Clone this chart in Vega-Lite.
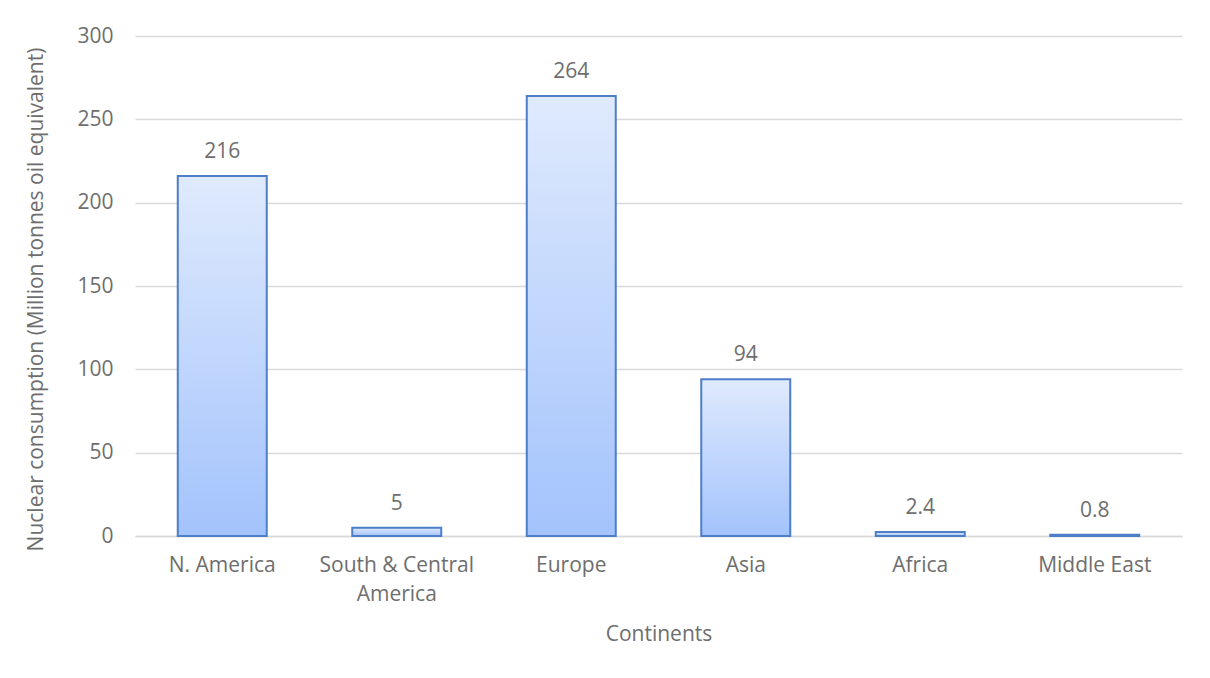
{
  "$schema": "https://vega.github.io/schema/vega-lite/v6.json",
  "width": 1047,
  "height": 500,
  "autosize": {"type": "none"},
  "padding": {"left": 135, "top": 36, "right": 28, "bottom": 142},
  "background": "white",
  "data": {
    "values": [
      {"continent": "N. America", "consumption": 216, "label": "216"},
      {"continent": "South & Central America", "consumption": 5, "label": "5"},
      {"continent": "Europe", "consumption": 264, "label": "264"},
      {"continent": "Asia", "consumption": 94, "label": "94"},
      {"continent": "Africa", "consumption": 2.4, "label": "2.4"},
      {"continent": "Middle East", "consumption": 0.8, "label": "0.8"}
    ]
  },
  "encoding": {
    "x": {
      "field": "continent",
      "type": "nominal",
      "sort": null,
      "scale": {"paddingInner": 0.49, "paddingOuter": 0.245},
      "axis": {
        "title": "Continents",
        "labelAngle": 0,
        "labelExpr": "datum.value == 'South & Central America' ? ['South & Central', 'America'] : datum.value",
        "labelLineHeight": 29,
        "labelPadding": 18,
        "titlePadding": 19,
        "ticks": false,
        "domainColor": "#D9D9D9",
        "domainWidth": 1.3
      }
    },
    "y": {
      "field": "consumption",
      "type": "quantitative",
      "scale": {"domain": [0, 300], "nice": false},
      "axis": {
        "title": "Nuclear consumption (Million tonnes oil equivalent)",
        "values": [0, 50, 100, 150, 200, 250, 300],
        "domain": false,
        "ticks": false,
        "labelPadding": 22,
        "grid": true,
        "gridColor": "#D9D9D9",
        "gridWidth": 1.3,
        "titleY": 263,
        "titlePadding": 30
      }
    }
  },
  "layer": [
    {
      "mark": {
        "type": "bar",
        "fill": {
          "gradient": "linear",
          "x1": 0, "y1": 0, "x2": 0, "y2": 1,
          "stops": [
            {"offset": 0, "color": "#DFEAFD"},
            {"offset": 1, "color": "#A3C3FC"}
          ]
        },
        "stroke": "#4D7EC8",
        "strokeWidth": 2
      }
    },
    {
      "mark": {
        "type": "text",
        "baseline": "alphabetic",
        "dy": -18,
        "font": "Open Sans",
        "fontSize": 21,
        "color": "#6E6E6E"
      },
      "encoding": {"text": {"field": "label"}}
    }
  ],
  "config": {
    "view": {"stroke": null},
    "font": "Open Sans",
    "axis": {
      "labelFont": "Open Sans",
      "labelFontSize": 21,
      "labelColor": "#6E6E6E",
      "titleFont": "Open Sans",
      "titleFontSize": 21,
      "titleFontWeight": "normal",
      "titleColor": "#6E6E6E"
    }
  }
}
